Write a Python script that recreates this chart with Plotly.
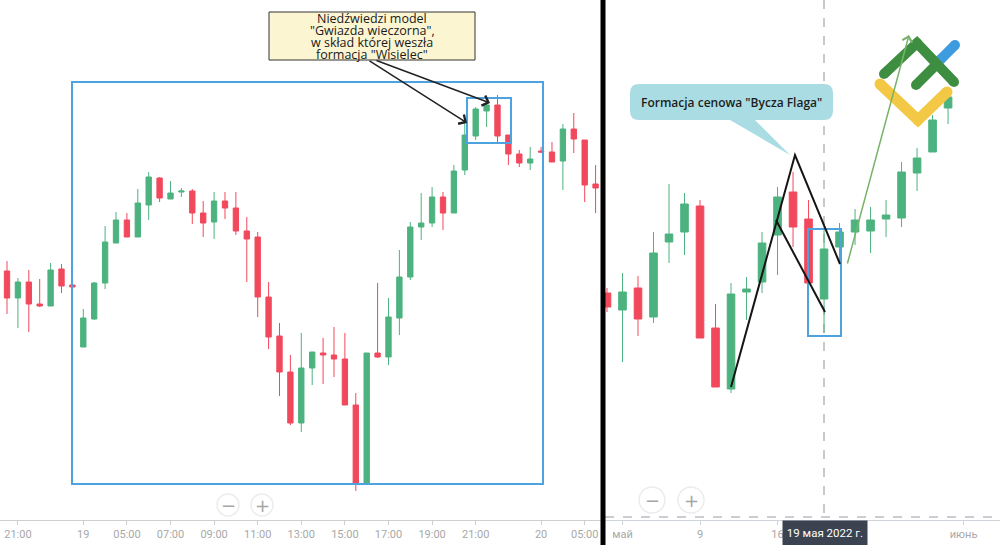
import plotly.graph_objects as go

# ---------------- DATA ----------------
# Left chart: 30-minute candles (positions = candle index), prices in chart units
left_open  = [329, 302, 318, 296, 294, 331, 315, 253, 281, 317, 357, 380, 363, 395, 422, 401, 408, 409, 387, 378,
              399, 392, 369, 363, 303, 264, 228, 177, 232, 247, 245, 241, 195, 117, 247, 243, 282, 323, 373, 377,
              403, 387, 430, 464, 489, 495, 465, 446, 437, 449, 448, 439, 471, 460, 416]
left_high  = [339, 322, 330, 321, 337, 336, 325, 291, 318, 374, 388, 387, 411, 428, 423, 419, 412, 411, 399, 408,
              408, 408, 383, 368, 318, 277, 245, 267, 248, 262, 273, 267, 207, 247, 317, 302, 350, 378, 407, 413,
              408, 435, 477, 493, 497, 505, 465, 450, 453, 453, 458, 476, 487, 460, 435]
left_low   = [286, 272, 268, 293, 294, 307, 303, 253, 280, 311, 357, 363, 363, 380, 398, 401, 403, 376, 363, 361,
              381, 365, 318, 283, 251, 204, 175, 168, 215, 216, 223, 195, 109, 115, 242, 235, 265, 320, 360, 373,
              370, 387, 425, 460, 473, 458, 435, 433, 430, 447, 438, 410, 447, 398, 387]
left_close = [302, 318, 296, 294, 330, 314, 313, 282, 317, 358, 380, 363, 397, 423, 402, 407, 409, 387, 377, 399,
              392, 369, 361, 303, 263, 228, 177, 232, 248, 245, 241, 195, 117, 247, 243, 283, 323, 373, 377, 403,
              387, 429, 465, 491, 495, 464, 446, 437, 441, 448, 438, 471, 461, 415, 412]
left_tick_pos  = [1, 7, 11, 15, 19, 23, 27, 31, 35, 39, 43, 49, 53]
left_tick_text = ["21:00", "19", "05:00", "07:00", "09:00", "11:00", "13:00", "15:00",
                  "17:00", "19:00", "21:00", "20", "05:00"]

# Right chart: daily candles (positions = trading-day index)
right_open  = [307, 290, 312, 283, 358, 368, 394, 272, 211, 308, 318, 365, 408, 381, 301, 353, 368, 369, 381, 382, 427, 448, 492]
right_high  = [312, 327, 324, 368, 416, 407, 400, 296, 317, 323, 368, 413, 428, 400, 373, 377, 391, 393, 400, 438, 452, 485, 513]
right_low   = [288, 238, 264, 277, 337, 345, 262, 213, 207, 280, 307, 325, 353, 305, 267, 338, 355, 347, 363, 373, 409, 448, 476]
right_close = [293, 308, 281, 347, 366, 396, 262, 213, 306, 311, 357, 403, 373, 317, 351, 368, 380, 380, 385, 428, 442, 480, 503]
right_tick_pos  = [1, 6, 11, 23]
right_tick_text = ["май", "9", "16", "июнь"]

GREEN = "#4cb27f"
RED = "#f2485c"
W, H = 1000, 545


def P(x):  # pixel -> paper x
    return x / W


def Q(y):  # pixel -> paper y
    return 1 - y / H


fig = go.Figure()
fig.add_trace(go.Candlestick(
    x=list(range(len(left_open))), open=left_open, high=left_high, low=left_low, close=left_close,
    increasing=dict(line=dict(color=GREEN, width=1), fillcolor=GREEN),
    decreasing=dict(line=dict(color=RED, width=1), fillcolor=RED),
    xaxis="x", yaxis="y", hoverinfo="skip", showlegend=False))
fig.add_trace(go.Candlestick(
    x=list(range(len(right_open))), open=right_open, high=right_high, low=right_low, close=right_close,
    increasing=dict(line=dict(color=GREEN, width=1), fillcolor=GREEN),
    decreasing=dict(line=dict(color=RED, width=1), fillcolor=RED),
    xaxis="x2", yaxis="y2", hoverinfo="skip", showlegend=False))

tickfont = dict(family="Roboto, Arial, sans-serif", size=11, color="#a8a8a8")
ydom = [25 / H, 1]

fig.update_layout(
    width=W, height=H, margin=dict(l=0, r=0, t=0, b=0),
    paper_bgcolor="white", plot_bgcolor="white",
    xaxis=dict(domain=[0, 0.603], range=[-0.642, 54.68], anchor="y",
               showgrid=False, zeroline=False, showline=True, linecolor="#cfcfcf",
               ticks="outside", ticklen=4, tickcolor="#cfcfcf",
               tickmode="array", tickvals=left_tick_pos, ticktext=left_tick_text,
               tickfont=tickfont, rangeslider=dict(visible=False), fixedrange=True),
    yaxis=dict(domain=ydom, range=[80, 600], anchor="x", visible=False, fixedrange=True),
    xaxis2=dict(domain=[0.603, 1], range=[-0.258, 25.35], anchor="y2",
                showgrid=False, zeroline=False, showline=True, linecolor="#cfd3da",
                ticks="outside", ticklen=4, tickcolor="#cfd3da",
                tickmode="array", tickvals=right_tick_pos, ticktext=right_tick_text,
                tickfont=tickfont, rangeslider=dict(visible=False), fixedrange=True),
    yaxis2=dict(domain=ydom, range=[80, 600], anchor="x2", visible=False, fixedrange=True),
    hovermode=False,
)

shapes = []
annos = []


def line(x0, y0, x1, y1, color, width, dash="solid", layer="above"):
    shapes.append(dict(type="line", xref="paper", yref="paper",
                       x0=P(x0), y0=Q(y0), x1=P(x1), y1=Q(y1),
                       line=dict(color=color, width=width, dash=dash), layer=layer))


def rect(x0, y0, x1, y1, color, width, fill="rgba(0,0,0,0)"):
    shapes.append(dict(type="rect", xref="paper", yref="paper",
                       x0=P(x0), y0=Q(y0), x1=P(x1), y1=Q(y1),
                       line=dict(color=color, width=width), fillcolor=fill, layer="above"))


def path(pts, color, width, fill=None, closed=False):
    d = "M " + " L ".join(f"{P(x):.5f},{Q(y):.5f}" for x, y in pts)
    if closed:
        d += " Z"
    shapes.append(dict(type="path", xref="paper", yref="paper", path=d,
                       line=dict(color=color, width=width),
                       fillcolor=fill if fill else "rgba(0,0,0,0)", layer="above"))


def dot(x, y, rr, color):
    shapes.append(dict(type="circle", xref="paper", yref="paper",
                       x0=P(x - rr), x1=P(x + rr), y0=Q(y + rr), y1=Q(y - rr),
                       line=dict(width=0), fillcolor=color, layer="above"))


# right-chart helper lines
line(605, 517, 1000, 517, "#b9bdc6", 1.5, "dash")
line(824, 0, 824, 517, "#b8b8b8", 1.5, "dash", layer="below")

# blue pattern boxes
BLUE = "#4da3e0"
rect(72, 82, 543, 484, BLUE, 2)
rect(467, 98, 511, 143, BLUE, 2)
rect(808, 229, 841, 336, BLUE, 2)

# bull flag lines
path([(731, 387), (795, 155), (840, 264)], "#151515", 2)
path([(776, 220), (825, 312)], "#151515", 2)

# cream callout box
rect(269, 12, 475, 60, "#333333", 1, fill="#fcf5d2")
for txt, yy in zip(['Niedźwiedzi model', '"Gwiazda wieczorna",',
                    'w skład której weszła', 'formacja "Wisielec"'], [18, 30, 42, 54]):
    annos.append(dict(text=txt, x=P(372), y=Q(yy), xref="paper", yref="paper",
                      showarrow=False, xanchor="center", yanchor="middle",
                      font=dict(family="Open Sans, sans-serif", size=12.5, color="#1a1a1a")))

# teal speech callout
x0, y0, x1, y1, r = 630, 84, 833, 120, 9
tail_l, tail_r, tip = 730, 755, (790, 155)
d = (f"M {P(x0+r)},{Q(y0)} L {P(x1-r)},{Q(y0)} Q {P(x1)},{Q(y0)} {P(x1)},{Q(y0+r)} "
     f"L {P(x1)},{Q(y1-r)} Q {P(x1)},{Q(y1)} {P(x1-r)},{Q(y1)} "
     f"L {P(tail_r)},{Q(y1)} L {P(tip[0])},{Q(tip[1])} L {P(tail_l)},{Q(y1)} "
     f"L {P(x0+r)},{Q(y1)} Q {P(x0)},{Q(y1)} {P(x0)},{Q(y1-r)} "
     f"L {P(x0)},{Q(y0+r)} Q {P(x0)},{Q(y0)} {P(x0+r)},{Q(y0)} Z")
shapes.append(dict(type="path", xref="paper", yref="paper", path=d,
                   line=dict(color="#aadde3", width=0), fillcolor="#aadde3", layer="above"))
annos.append(dict(text='Formacja cenowa "Bycza Flaga"', x=P(731), y=Q(102), xref="paper", yref="paper",
                  showarrow=False, xanchor="center", yanchor="middle",
                  font=dict(family="Open Sans, sans-serif", size=12, color="#1d1d1d", weight=600)))

# arrows
for hx, hy, tx, ty in [(467, 123, 368, 60), (490, 103, 375, 60)]:
    annos.append(dict(text="", x=P(hx), y=Q(hy), xref="paper", yref="paper",
                      ax=tx - hx, ay=ty - hy, showarrow=True, arrowhead=4,
                      arrowsize=1.4, arrowwidth=1.5, arrowcolor="#222222"))

# logo (simplified, thick strokes with rounded ends)
LG, LB, LY = "#3e8e41", "#3d9be0", "#f3c845"
path([(940, 60), (955, 45)], LB, 10)
for p in [(940, 60), (955, 45)]:
    dot(*p, 5, LB)
path([(884, 74), (917, 43), (954, 82)], LG, 10)
path([(916, 85), (938, 63)], LG, 10)
for p in [(884, 74), (954, 82), (916, 85), (917, 43)]:
    dot(*p, 5, LG)
path([(880, 84), (918, 120), (947, 92)], LY, 11)
for p in [(880, 84), (947, 92), (918, 120)]:
    dot(*p, 5.5, LY)

annos.append(dict(text="", x=P(909), y=Q(35), xref="paper", yref="paper",
                  ax=847 - 909, ay=265 - 35, showarrow=True, arrowhead=4,
                  arrowsize=1.3, arrowwidth=1.5, arrowcolor="#78b36a"))

# zoom buttons
for cx, cy, rr in [(228, 505, 11), (262, 505, 11), (652, 500, 13), (691, 500, 13)]:
    shapes.append(dict(type="circle", xref="paper", yref="paper",
                       x0=P(cx - rr), x1=P(cx + rr), y0=Q(cy + rr), y1=Q(cy - rr),
                       line=dict(color="#ececec", width=1.5), fillcolor="white", layer="above"))
for cx, cy, t in [(228, 505, "−"), (262, 505, "+"), (652, 500, "−"), (691, 500, "+")]:
    annos.append(dict(text=t, x=P(cx), y=Q(cy), xref="paper", yref="paper", showarrow=False,
                      xanchor="center", yanchor="middle",
                      font=dict(family="DejaVu Sans, sans-serif", size=18, color="#a6a6a6")))

# separator
line(603, 0, 603, 545, "#000000", 5)

# date tooltip
annos.append(dict(text="19 мая 2022 г.", x=P(824.5), y=Q(533), xref="paper", yref="paper",
                  showarrow=False, xanchor="center", yanchor="middle", bgcolor="#3c4350",
                  width=80, height=20, borderpad=2,
                  font=dict(family="Roboto, Arial, sans-serif", size=11.5, color="white")))

fig.update_layout(shapes=shapes, annotations=annos)
fig.write_html("out.html", config={"displayModeBar": False},
               post_script="document.body.style.margin='0';")
